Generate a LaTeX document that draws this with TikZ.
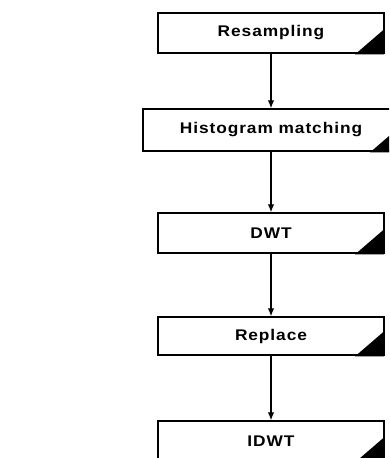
\documentclass[tikz,border=0pt]{standalone}
\usepackage{fontspec}
\setmainfont{DejaVu Sans}
\newfontfamily\stagefont[LetterSpace=6, FakeStretch=1.12]{Liberation Sans}
\usepackage{xcolor}
\usetikzlibrary{positioning,arrows.meta,calc}

\tikzset{
    stagebox/.style={draw, rectangle, line width=1.2pt, fill=white, font=\stagefont\bfseries\fontsize{13.2}{16}\selectfont, minimum width=6.78cm, minimum height=1.2cm, inner sep=0pt},
    flowarrow/.style={-{Latex[length=2.4mm,width=2mm]}, line width=1.1pt}
}

\begin{document}
\begin{tikzpicture}[x=0.03cm, y=-0.03cm]
    \useasboundingbox (0,0) rectangle (389,458);
    \clip (0,0) rectangle (389,458);

    % Processing stages
    \node[stagebox] (resamp) at (271, 33) {Resampling};
    \node[stagebox, minimum width=7.68cm, minimum height=1.26cm] (histo) at (271, 130) {Histogram matching};
    \node[stagebox] (dwt) at (271, 233) {DWT};
    \node[stagebox, minimum height=1.14cm] (replace) at (271, 336) {Replace};
    \node[stagebox] (idwt) at (271, 441) {IDWT};

    % Black corner marks
    \foreach \n in {resamp, histo, dwt, replace, idwt} {
        \fill ($(\n.south east)+(-0.6pt,-0.6pt)$) -- ++(-29,0) -- ++(29,-25) -- cycle;
    }

    % Flow between stages
    \draw[flowarrow] (resamp) -- (histo);
    \draw[flowarrow] (histo) -- (dwt);
    \draw[flowarrow] (dwt) -- (replace);
    \draw[flowarrow] (replace) -- (idwt);
\end{tikzpicture}
\end{document}
